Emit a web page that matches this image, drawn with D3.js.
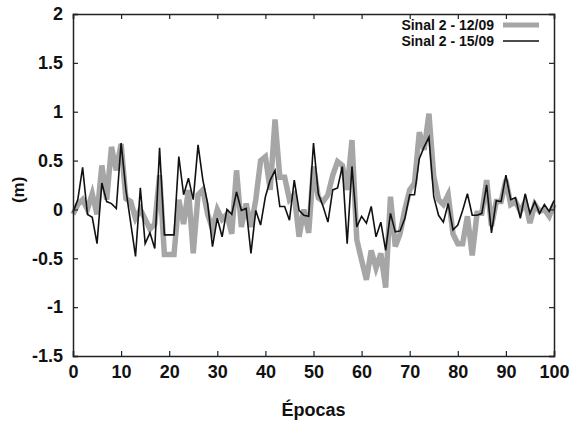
<!DOCTYPE html>
<html>
<head>
<meta charset="utf-8">
<script src="https://cdn.jsdelivr.net/npm/d3@7"></script>
<style>
  body { margin: 0; background: #fff; }
  svg text { font-family: "Liberation Sans", Arial, sans-serif; font-weight: bold; fill: #111; }
</style>
</head>
<body>
<div id="chart"></div>
<script>
// Sinal 2 - 12/09 (thick gray)
const sinal1209 = [-0.05, 0.05, 0.1, 0.0, 0.16, -0.05, 0.45, 0.1, 0.64, 0.4,
  0.67, 0.11, 0.08, -0.09, 0.0, -0.1, -0.2, -0.15, 0.35, -0.46,
  -0.46, -0.46, 0.1, -0.15, 0.2, -0.45, 0.15, 0.2, -0.05, -0.2,
  0.0, -0.1, -0.05, -0.25, 0.4, -0.18, 0.06, -0.18, 0.1, 0.5,
  0.54, 0.2, 0.92, 0.33, 0.33, 0.1, 0.15, -0.28, 0.0, -0.24,
  0.44, 0.12, 0.08, 0.15, 0.35, 0.49, 0.45, 0.2, 0.71, -0.31,
  -0.52, -0.72, -0.42, -0.6, -0.45, -0.8, 0.13, -0.38, -0.25, 0.0,
  0.2, 0.27, 0.79, 0.61, 0.98, 0.34, 0.1, 0.05, 0.15, -0.25,
  -0.35, -0.35, -0.07, -0.47, -0.04, -0.04, 0.3, -0.17, 0.08, 0.08,
  0.3, 0.05, 0.08, -0.02, 0.08, -0.14, 0.05, -0.02, 0.0, -0.07, 0.05];

// Sinal 2 - 15/09 (thin black)
const sinal1509 = [-0.03, 0.1, 0.43, -0.05, -0.08, -0.35, 0.27, 0.08, 0.06, 0.01,
  0.68, 0.2, -0.14, -0.48, 0.22, -0.35, -0.24, -0.4, 0.63, -0.26,
  -0.26, -0.26, 0.54, 0.15, 0.32, 0.1, 0.66, 0.3, 0.06, -0.38,
  -0.09, -0.28, 0.0, -0.05, 0.18, -0.01, 0.01, -0.45, -0.01, -0.16,
  0.13, 0.3, 0.4, 0.03, 0.03, -0.11, 0.3, -0.01, -0.06, -0.07,
  0.68, 0.16, 0.03, -0.13, 0.2, 0.22, 0.44, -0.35, 0.44, -0.18,
  -0.07, -0.14, 0.03, -0.28, -0.13, -0.42, -0.04, -0.23, -0.22, -0.09,
  0.15, 0.15, 0.52, 0.64, 0.74, 0.13, -0.06, -0.13, 0.06, -0.21,
  -0.16, -0.01, 0.16, -0.06, -0.06, -0.04, 0.25, -0.24, 0.09, 0.08,
  0.35, 0.1, 0.12, -0.09, 0.16, -0.04, 0.08, -0.04, 0.05, -0.02, 0.09];

const xTicks = [0, 10, 20, 30, 40, 50, 60, 70, 80, 90, 100];
const yTicks = [-1.5, -1, -0.5, 0, 0.5, 1, 1.5, 2];
const seriesNames = ["Sinal 2 - 12/09", "Sinal 2 - 15/09"];

const width = 577, height = 425;
const margin = {top: 14, right: 23, bottom: 69, left: 73};

const svg = d3.select("#chart").append("svg")
    .attr("width", width)
    .attr("height", height);

const x = d3.scaleLinear().domain([0, 100]).range([margin.left, width - margin.right]);
const y = d3.scaleLinear().domain([-1.5, 2]).range([height - margin.bottom, margin.top]);

const line = d3.line()
    .x((d, i) => x(i))
    .y(d => y(d));

// gray series first, black over it
svg.append("path")
    .datum(sinal1209)
    .attr("fill", "none")
    .attr("stroke", "#a6a6a6")
    .attr("stroke-width", 5.5)
    .attr("d", line);

svg.append("path")
    .datum(sinal1509)
    .attr("fill", "none")
    .attr("stroke", "#111")
    .attr("stroke-width", 1.6)
    .attr("d", line);

// axes with inner ticks (gnuplot style)
const tickLen = 5;
const fmt = d => String(d); // plain hyphen minus, like the source

svg.append("g")
    .attr("transform", `translate(0,${y(-1.5)})`)
    .call(d3.axisBottom(x).tickValues(xTicks).tickSize(-tickLen).tickPadding(9).tickFormat(fmt))
    .call(g => g.selectAll("text").style("font-size", "18px"));

svg.append("g")
    .attr("transform", `translate(0,${y(2)})`)
    .call(d3.axisTop(x).tickValues(xTicks).tickSize(-tickLen).tickFormat(""));

svg.append("g")
    .attr("transform", `translate(${x(0)},0)`)
    .call(d3.axisLeft(y).tickValues(yTicks).tickSize(-tickLen).tickPadding(10).tickFormat(fmt))
    .call(g => g.selectAll("text").style("font-size", "18px"));

svg.append("g")
    .attr("transform", `translate(${x(100)},0)`)
    .call(d3.axisRight(y).tickValues(yTicks).tickSize(-tickLen).tickFormat(""));

svg.selectAll(".domain").attr("stroke", "#222").attr("stroke-width", 1.5);
svg.selectAll(".tick line").attr("stroke", "#222").attr("stroke-width", 1.2);

svg.append("text")
    .attr("x", (x(0) + x(100)) / 2)
    .attr("y", 416)
    .attr("text-anchor", "middle")
    .style("font-size", "18px")
    .text("Épocas");

svg.append("text")
    .attr("transform", `translate(24,${y(0.2)}) rotate(-90)`)
    .attr("text-anchor", "middle")
    .style("font-size", "17px")
    .text("(m)");

// legend
const legend = svg.append("g");
seriesNames.forEach((name, i) => {
    const ly = 25 + i * 16;
    legend.append("text")
        .attr("x", 494)
        .attr("y", ly + 5)
        .attr("text-anchor", "end")
        .style("font-size", "14px")
        .text(name);
    legend.append("line")
        .attr("x1", 503).attr("x2", 539)
        .attr("y1", ly).attr("y2", ly)
        .attr("stroke", i === 0 ? "#a6a6a6" : "#111")
        .attr("stroke-width", i === 0 ? 5 : 1.5);
});
</script>
</body>
</html>
